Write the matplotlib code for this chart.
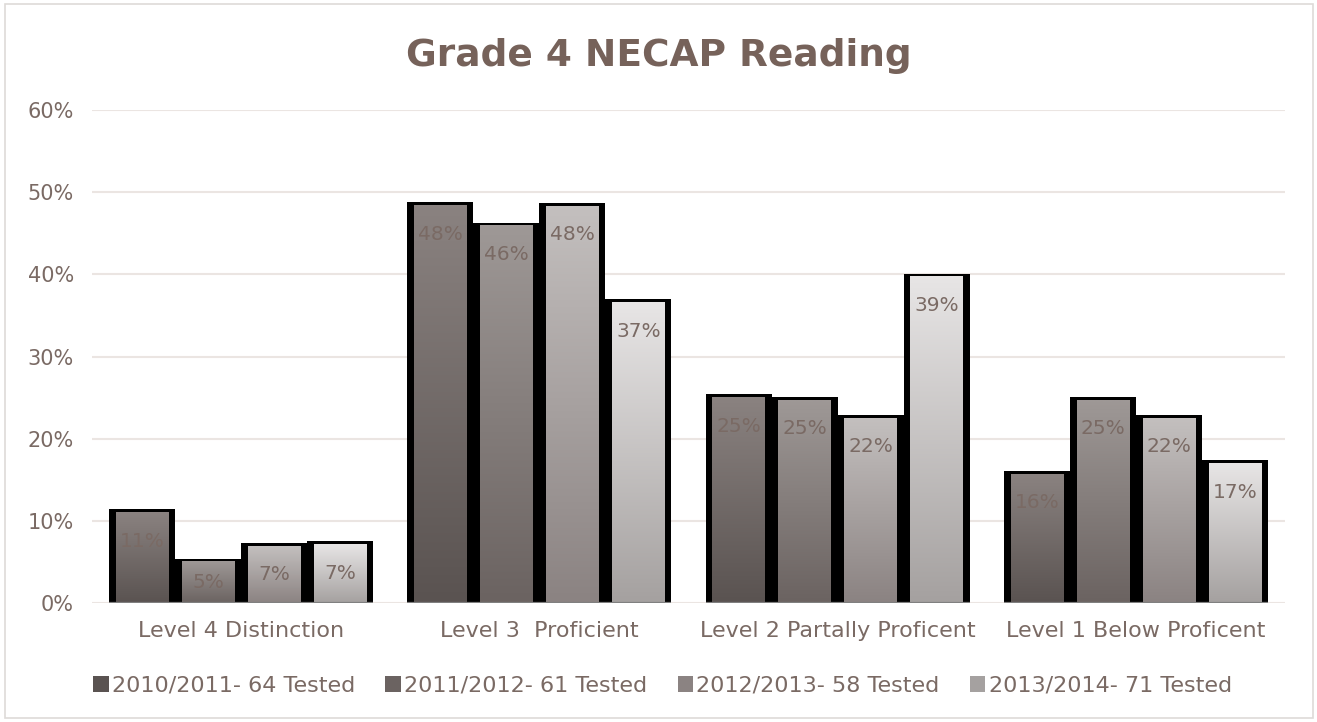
import numpy as np
import matplotlib.pyplot as plt
from matplotlib.patches import Rectangle, Patch

# datos
categorias = ['Level 4 Distinction', 'Level 3  Proficient',
              'Level 2 Partally Proficent', 'Level 1 Below Proficent']
series = ['2010/2011- 64 Tested', '2011/2012- 61 Tested',
          '2012/2013- 58 Tested', '2013/2014- 71 Tested']
valores = [
    [0.110, 0.484, 0.250, 0.157],
    [0.050, 0.459, 0.247, 0.247],
    [0.069, 0.483, 0.225, 0.225],
    [0.071, 0.366, 0.397, 0.170],
]
etiquetas = [
    ['11%', '48%', '25%', '16%'],
    ['5%', '46%', '25%', '25%'],
    ['7%', '48%', '22%', '22%'],
    ['7%', '37%', '39%', '17%'],
]

# colores de degradado (abajo, arriba) por serie
degradados = [
    ('#5a5351', '#8a8280'),
    ('#6b6361', '#9e9896'),
    ('#8b8382', '#c3bfbe'),
    ('#a5a1a0', '#e7e5e5'),
]
marron = '#76625a'
texto = '#7a6a64'

fig = plt.figure(figsize=(13.17, 7.22), dpi=100)
ax = fig.add_axes([0.0699, 0.1648, 0.9058, 0.6828])

x = np.arange(len(categorias))
ancho = 0.2213
interior = 0.176
extra = 0.0040

def hex2rgb(h):
    h = h.lstrip('#')
    return np.array([int(h[i:i + 2], 16) / 255 for i in (0, 2, 4)])

for i, serie in enumerate(series):
    pos = x + (i - 1.5) * ancho
    vals = np.array(valores[i])
    # fondo negro (borde grueso)
    ax.bar(pos, vals + extra, width=ancho, color='black', zorder=2)
    c0, c1 = hex2rgb(degradados[i][0]), hex2rgb(degradados[i][1])
    t = np.linspace(0, 1, 64)[:, None]
    grad = (c0 * (1 - t) + c1 * t)[:, None, :]
    for p, v, lab in zip(pos, vals, etiquetas[i]):
        ax.imshow(grad, extent=[p - interior / 2, p + interior / 2, 0, v],
                  origin='lower', aspect='auto', interpolation='bilinear', zorder=3)
        ty = max(v - 0.035, v / 2)
        ax.text(p, ty, lab, ha='center', va='center', fontsize=14.5,
                color=texto, zorder=4)

# línea base bajo cada grupo
for xc in x:
    ax.plot([xc - 2 * ancho, xc + 2 * ancho], [0, 0], color='#808080',
            lw=1.6, zorder=5, solid_capstyle='butt')

ax.set_xlim(-0.5, 3.5)
ax.set_ylim(0, 0.6)
ax.set_yticks(np.arange(0, 0.61, 0.1))
ax.set_yticklabels([f'{int(round(v * 100))}%' for v in np.arange(0, 0.61, 0.1)])
ax.set_xticks(x)
ax.set_xticklabels(categorias)
ax.tick_params(axis='both', length=0, labelsize=16, colors=texto)
ax.tick_params(axis='y', labelsize=15, pad=13)
ax.tick_params(axis='x', pad=13)
ax.grid(axis='y', color='#ebe5e2', lw=1.5, zorder=0)
ax.set_axisbelow(True)
for s in ax.spines.values():
    s.set_visible(False)

fig.text(0.5, 0.922, 'Grade 4 NECAP Reading', ha='center', va='center',
         fontsize=27, fontweight='bold', color=marron)

handles = [Patch(facecolor=d[0], edgecolor='none') for d in degradados]
fig.legend(handles, series, loc='center', bbox_to_anchor=(0.503, 0.05), ncol=4,
           frameon=False, fontsize=16, labelcolor=texto, handlelength=0.7,
           handleheight=0.7, handletextpad=0.15, columnspacing=1.36)

# marco exterior
fig.patches.append(Rectangle((0.004, 0.006), 0.993, 0.988, transform=fig.transFigure,
                             fill=False, edgecolor='#dedad8', lw=1.2))

plt.savefig('out.png', dpi=100)
